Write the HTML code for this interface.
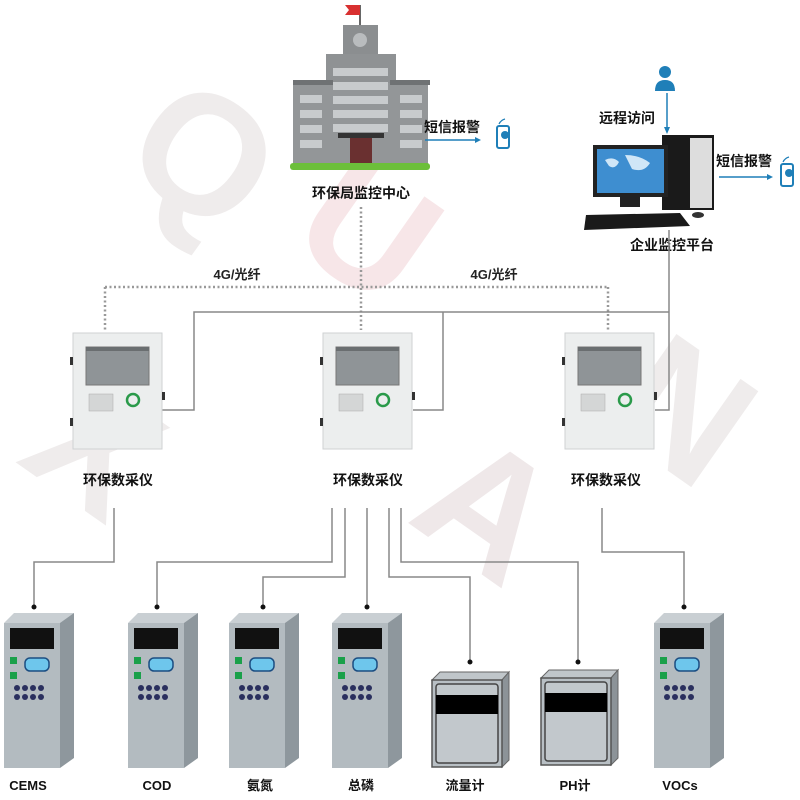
<!DOCTYPE html>
<html><head><meta charset="utf-8"><style>
html,body{margin:0;padding:0;background:#fff;}
svg{display:block;}
text{font-family:"Liberation Sans","Noto Sans CJK SC",sans-serif;}
</style></head><body>
<svg width="800" height="800" viewBox="0 0 800 800" xmlns="http://www.w3.org/2000/svg">
<defs>
<g id="cab">
  <polygon points="0,10 10,0 70,0 60,10" fill="#c9cfd3"/>
  <polygon points="56,10 70,0 70,145 56,155" fill="#8e979d"/>
  <rect x="0" y="10" width="56" height="145" fill="#b3bbc0"/>
  <rect x="6" y="15" width="44" height="21" fill="#111"/>
  <rect x="6" y="44" width="7" height="7" fill="#1aa04a"/>
  <rect x="6" y="59" width="7" height="7" fill="#1aa04a"/>
  <rect x="21" y="45" width="24" height="13" rx="5" fill="#6ec6ec" stroke="#1c4e82" stroke-width="1.5"/>
  <g fill="#2a2f5e">
   <circle cx="13" cy="75" r="3"/><circle cx="21" cy="75" r="3"/><circle cx="29" cy="75" r="3"/><circle cx="37" cy="75" r="3"/>
   <circle cx="13" cy="84" r="3"/><circle cx="21" cy="84" r="3"/><circle cx="29" cy="84" r="3"/><circle cx="37" cy="84" r="3"/>
  </g>
</g>
<g id="meter">
  <polygon points="0,8 8,0 77,0 70,8" fill="#c0c6ca" stroke="#666" stroke-width="1"/>
  <polygon points="70,8 77,0 77,88 70,95" fill="#8c9398" stroke="#666" stroke-width="1"/>
  <rect x="0" y="8" width="70" height="87" fill="#b8bfc4" stroke="#555" stroke-width="1.5"/>
  <rect x="4" y="12" width="62" height="79" rx="3" fill="#c2c8cc" stroke="#444" stroke-width="1.5"/>
  <rect x="4" y="23" width="62" height="19" fill="#000"/>
</g>
<g id="dcu">
  <rect x="0" y="0" width="89" height="116" fill="#eceeee" stroke="#cfd2d3"/>
  <rect x="13" y="14" width="63" height="38" fill="#8f9497" stroke="#777"/>
  <rect x="13" y="14" width="63" height="4" fill="#6a6e70"/>
  <rect x="16" y="61" width="24" height="17" fill="#d4d6d6" stroke="#aaa" stroke-width=".5"/>
  <circle cx="60" cy="67" r="6" fill="none" stroke="#2a9a4a" stroke-width="2.5"/>
  <rect x="-3" y="24" width="3" height="8" fill="#333"/>
  <rect x="-3" y="85" width="3" height="8" fill="#333"/>
  <rect x="89" y="59" width="3" height="8" fill="#333"/>
</g>
<g id="phone">
  <rect x="0" y="6" width="12" height="22" rx="2" fill="none" stroke="#1f7fb8" stroke-width="2"/>
  <circle cx="8" cy="15" r="4" fill="#1f7fb8"/>
  <path d="M2,4 Q4,0 8,-1" fill="none" stroke="#1f7fb8" stroke-width="1.2"/>
</g>
</defs>

<!-- watermark -->
<g font-size="170" font-weight="bold" fill="#efecec" font-family="Liberation Sans,sans-serif">
  <text x="140" y="210" transform="rotate(35 200 150)">Q</text>
  <text x="40" y="520" transform="rotate(35 120 450)">X</text>
  <text x="330" y="300" transform="rotate(35 400 200)" fill="#f7e6e8">U</text>
  <text x="430" y="560" transform="rotate(35 480 500)" fill="#efe8e9">A</text>
  <text x="620" y="480" transform="rotate(35 700 420)">N</text>
</g>

<!-- building -->
<g>
  <line x1="360" y1="5" x2="360" y2="28" stroke="#666" stroke-width="2"/>
  <polygon points="345,5 360,5 360,15 345,15 349,10" fill="#d83030"/>
  <rect x="343" y="25" width="35" height="30" fill="#8b8e90"/>
  <circle cx="360" cy="40" r="7" fill="#b9bcbe"/>
  <rect x="326" y="54" width="70" height="110" fill="#8f9294"/>
  <rect x="293" y="83" width="135" height="81" fill="#939698"/>
  <rect x="293" y="80" width="40" height="5" fill="#6f7274"/>
  <rect x="390" y="80" width="40" height="5" fill="#6f7274"/>
  <g fill="#c8cbcd">
   <rect x="300" y="95" width="22" height="8"/><rect x="300" y="110" width="22" height="8"/><rect x="300" y="125" width="22" height="8"/><rect x="300" y="140" width="22" height="8"/>
   <rect x="400" y="95" width="22" height="8"/><rect x="400" y="110" width="22" height="8"/><rect x="400" y="125" width="22" height="8"/><rect x="400" y="140" width="22" height="8"/>
   <rect x="333" y="68" width="55" height="8"/><rect x="333" y="82" width="55" height="8"/><rect x="333" y="96" width="55" height="8"/><rect x="333" y="110" width="55" height="8"/><rect x="333" y="124" width="55" height="8"/>
  </g>
  <rect x="338" y="133" width="46" height="5" fill="#333"/>
  <rect x="350" y="138" width="22" height="28" fill="#6a3030"/>
  <rect x="290" y="163" width="140" height="7" rx="3" fill="#6cbf3a"/>
</g>
<text x="361" y="198" font-size="14" font-weight="bold" text-anchor="middle" fill="#111">环保局监控中心</text>
<text x="424" y="132" font-size="14" font-weight="bold" fill="#111">短信报警</text>
<line x1="425" y1="140" x2="478" y2="140" stroke="#1f7fb8" stroke-width="1.5"/>
<polygon points="481,140 475,137 475,143" fill="#1f7fb8"/>
<use href="#phone" x="497" y="120"/>

<!-- computer -->
<circle cx="665" cy="72" r="6" fill="#1f7fb8"/>
<path d="M655,91 Q655,80 665,80 Q675,80 675,91 Z" fill="#1f7fb8"/>
<line x1="667" y1="93" x2="667" y2="130" stroke="#1f7fb8" stroke-width="1.5"/>
<polygon points="667,134 664,127 670,127" fill="#1f7fb8"/>
<text x="599" y="123" font-size="14" font-weight="bold" fill="#111">远程访问</text>
<rect x="662" y="135" width="52" height="75" fill="#1a1a1a"/>
<rect x="690" y="138" width="22" height="70" fill="#ddd"/>
<rect x="593" y="145" width="75" height="52" fill="#222"/>
<rect x="597" y="149" width="67" height="44" fill="#3e8ed0"/>
<path d="M605,160 q8,-4 14,2 q-4,8 -10,4 z M625,155 q15,0 25,8 q-6,10 -18,6 z" fill="#cfe6f7"/>
<rect x="620" y="197" width="20" height="10" fill="#222"/>
<polygon points="586,215 680,213 690,226 584,230" fill="#1a1a1a"/>
<ellipse cx="698" cy="215" rx="6" ry="3" fill="#333"/>
<text x="672" y="250" font-size="14" font-weight="bold" text-anchor="middle" fill="#111">企业监控平台</text>
<text x="716" y="166" font-size="14" font-weight="bold" fill="#111">短信报警</text>
<line x1="719" y1="177" x2="770" y2="177" stroke="#1f7fb8" stroke-width="1.5"/>
<polygon points="773,177 767,174 767,180" fill="#1f7fb8"/>
<use href="#phone" x="781" y="158"/>

<!-- network lines -->
<g stroke="#999" stroke-width="2.5" stroke-dasharray="2,2.5" fill="none">
  <line x1="105" y1="287" x2="608" y2="287"/>
  <line x1="105" y1="287" x2="105" y2="330"/>
  <line x1="361" y1="207" x2="361" y2="330"/>
  <line x1="608" y1="287" x2="608" y2="330"/>
</g>
<text x="237" y="279" font-size="13" font-weight="bold" text-anchor="middle" fill="#222">4G/光纤</text>
<text x="494" y="279" font-size="13" font-weight="bold" text-anchor="middle" fill="#222">4G/光纤</text>
<g stroke="#888" stroke-width="1.5" fill="none">
  <polyline points="162,410 194,410 194,312 669,312"/>
  <polyline points="413,410 443,410 443,312"/>
  <polyline points="655,410 669,410 669,230"/>
</g>

<use href="#dcu" x="73" y="333"/>
<use href="#dcu" x="323" y="333"/>
<use href="#dcu" x="565" y="333"/>
<text x="118" y="485" font-size="14" font-weight="bold" text-anchor="middle" fill="#111">环保数采仪</text>
<text x="368" y="485" font-size="14" font-weight="bold" text-anchor="middle" fill="#111">环保数采仪</text>
<text x="606" y="485" font-size="14" font-weight="bold" text-anchor="middle" fill="#111">环保数采仪</text>

<!-- bottom connectors -->
<g stroke="#888" stroke-width="1.5" fill="none">
  <polyline points="114,508 114,562 34,562 34,607"/>
  <polyline points="332,508 332,562 157,562 157,607"/>
  <polyline points="345,508 345,577 263,577 263,607"/>
  <polyline points="367,508 367,607"/>
  <polyline points="389,508 389,577 470,577 470,662"/>
  <polyline points="401,508 401,562 578,562 578,662"/>
  <polyline points="602,508 602,552 684,552 684,607"/>
</g>
<g fill="#111">
  <circle cx="34" cy="607" r="2.5"/><circle cx="157" cy="607" r="2.5"/><circle cx="263" cy="607" r="2.5"/><circle cx="367" cy="607" r="2.5"/>
  <circle cx="470" cy="662" r="2.5"/><circle cx="578" cy="662" r="2.5"/><circle cx="684" cy="607" r="2.5"/>
</g>

<use href="#cab" x="4" y="613"/>
<use href="#cab" x="128" y="613"/>
<use href="#cab" x="229" y="613"/>
<use href="#cab" x="332" y="613"/>
<use href="#cab" x="654" y="613"/>
<use href="#meter" x="432" y="672"/>
<use href="#meter" x="541" y="670"/>

<g font-size="13" font-weight="bold" fill="#111" text-anchor="middle">
  <text x="28" y="790">CEMS</text>
  <text x="157" y="790">COD</text>
  <text x="260" y="790">氨氮</text>
  <text x="361" y="790">总磷</text>
  <text x="465" y="790">流量计</text>
  <text x="575" y="790">PH计</text>
  <text x="680" y="790">VOCs</text>
</g>
</svg>
</body></html>
